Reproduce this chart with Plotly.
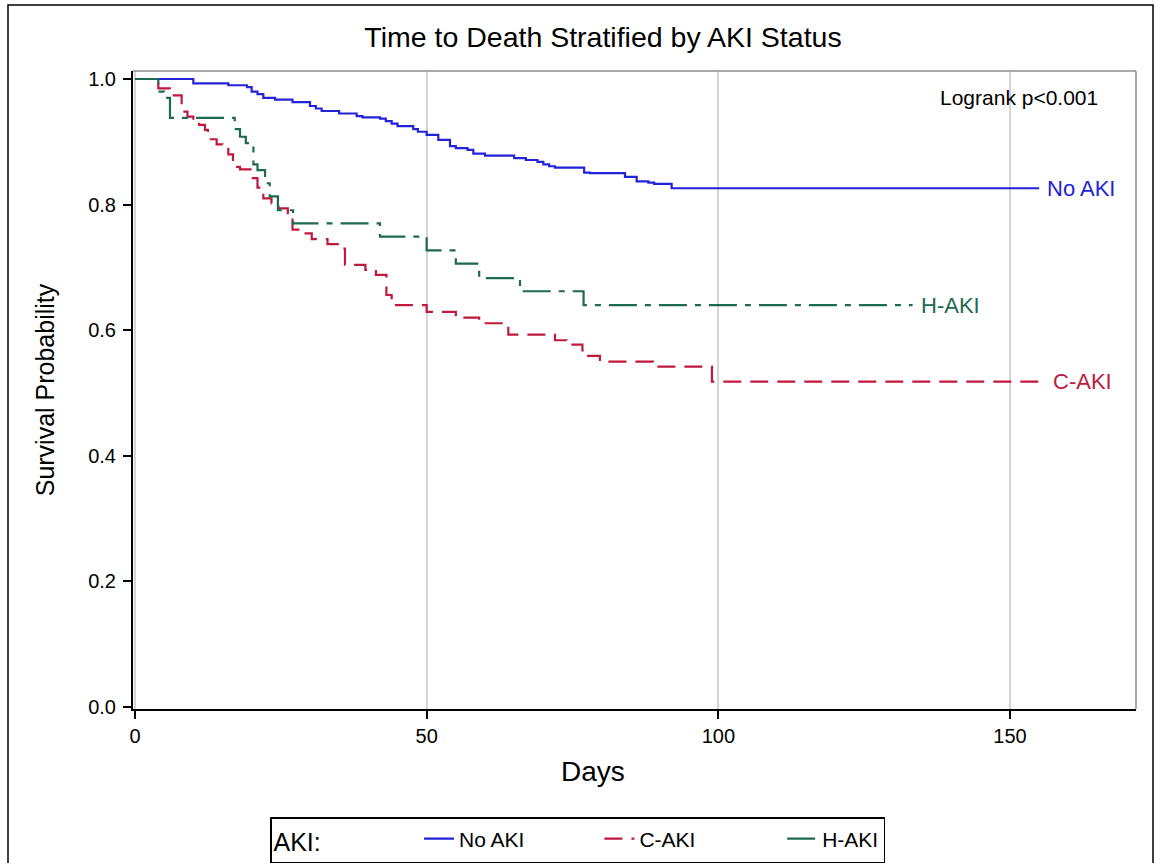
import plotly.graph_objects as go

# ---- data ----
no_aki_t = [0, 10, 16, 19.2, 20, 21, 22, 24, 27, 30, 31, 32, 35, 38, 39, 42, 43, 44, 45, 47.7, 48.5,
            50, 52, 54, 55, 57, 58, 60, 65, 67, 69, 70, 71, 72, 77, 78, 84, 86, 88, 89, 92, 155]
no_aki_s = [1.0, .993, .990, .987, .980, .976, .970, .967, .963, .957, .953, .949, .945, .941, .939,
            .937, .933, .929, .925, .920, .916, .911, .903, .893, .890, .887, .881, .878, .874, .871,
            .868, .864, .861, .859, .851, .850, .844, .837, .835, .833, .826, .826]

c_aki_t = [0, 4, 6, 8, 9, 10, 11, 12, 12.5, 13, 14, 15, 16, 16.8, 18, 20, 21, 22, 23.4, 24.6, 26.2, 27,
           28, 30.3, 33, 35, 36, 39.5, 41.3, 43.1, 44, 50, 55, 59, 64, 72, 74, 76.7, 77.7, 79.7,
           88.8, 98.9, 156]
c_aki_s = [1.0, .985, .974, .948, .940, .935, .927, .919, .908, .904, .896, .893, .880, .860, .856,
           .842, .827, .810, .802, .794, .781, .760, .754, .745, .737, .730, .704, .696, .688, .656,
           .640, .629, .620, .611, .593, .584, .577, .568, .559, .550, .542, .518, .518]

h_aki_t = [0, 4, 5, 6, 17.1, 18, 19, 20.3, 21, 22.3, 23.1, 24.5, 27.1, 42, 50, 55, 59, 66, 76.9, 133.3]
h_aki_s = [1.0, .98, .97, .938, .92, .908, .898, .864, .855, .834, .813, .791, .770, .749, .727,
           .706, .683, .662, .640, .640]

series = [
    ("No AKI", no_aki_t, no_aki_s, "#2323D9", "solid", 12),
    ("C-AKI", c_aki_t, c_aki_s, "#C0183E", "18px,9px", 14),
    ("H-AKI", h_aki_t, h_aki_s, "#1D6A50", "28px,8px,6px,8px", 0),
]

x_ticks = [0, 50, 100, 150]
y_ticks = [0.0, 0.2, 0.4, 0.6, 0.8, 1.0]

FONT = "Liberation Sans, Arial, sans-serif"

L, R, T, B = 133, 19, 71, 154
W, H = 1155, 863
pw, ph = W - L - R, H - T - B

def px(xp):
    return (xp - L) / pw

def py(yp):
    return (H - B - yp) / ph

fig = go.Figure()
for name, t, s, color, dash, pad in series:
    fig.add_trace(go.Scatter(
        x=t, y=s, mode="lines", name=name + "&nbsp;" * pad, line_shape="hv",
        line=dict(color=color, width=2.2, dash=dash),
    ))
    fig.add_annotation(x=t[-1], y=s[-1], text=name, showarrow=False, xanchor="left",
                       xshift=6, font=dict(size=22, color=color, family=FONT))

fig.add_annotation(xref="paper", yref="paper", x=px(1100), y=py(97), xanchor="right", yanchor="middle",
                   text="Logrank p<0.001", showarrow=False, font=dict(size=21, color="black", family=FONT))
fig.add_annotation(xref="paper", yref="paper", x=px(593), y=py(771), xanchor="center", yanchor="middle",
                   text="Days", showarrow=False, font=dict(size=28, color="black", family=FONT))

shapes = [
    # outer border
    dict(type="rect", xref="paper", yref="paper", x0=px(8), x1=px(1153), y0=py(875), y1=py(5),
         line=dict(color="black", width=1.5), layer="below"),
    # top and right frame lines (gray)
    dict(type="line", xref="paper", yref="paper", x0=0, x1=1, y0=1, y1=1,
         line=dict(color="#8c8c8c", width=1.5)),
    dict(type="line", xref="paper", yref="paper", x0=1, x1=1, y0=0, y1=1,
         line=dict(color="#8c8c8c", width=1.5)),
]

fig.update_layout(
    width=W, height=H,
    margin=dict(l=L, r=R, t=T, b=B, autoexpand=False),
    paper_bgcolor="white", plot_bgcolor="white",
    font=dict(family=FONT, color="black"),
    title=dict(text="Time to Death Stratified by AKI Status", x=603 / W, xanchor="center",
               y=1 - 37 / H, yanchor="middle", font=dict(size=28.5, family=FONT, color="black")),
    xaxis=dict(range=[-0.34, 171.6], tickvals=x_ticks, ticktext=[str(v) for v in x_ticks],
               showgrid=True, gridcolor="#d6d6d6", gridwidth=1.5, zeroline=False,
               showline=True, linecolor="black", linewidth=2, ticks="outside", ticklen=8,
               tickwidth=2, tickcolor="black", tickfont=dict(size=20)),
    yaxis=dict(range=[-0.0032, 1.0127], tickvals=y_ticks, ticktext=[f"{v:.1f}" for v in y_ticks],
               showgrid=False, zeroline=False,
               showline=True, linecolor="black", linewidth=2, ticks="outside", ticklen=8,
               tickwidth=2, tickcolor="black", tickfont=dict(size=20), ticklabelstandoff=3,
               title=dict(text="Survival Probability", font=dict(size=25), standoff=26)),
    legend=dict(orientation="h", x=px(270), xanchor="left", y=py(817), yanchor="top",
                bordercolor="black", borderwidth=1.5, bgcolor="white",
                title=dict(text="AKI:" + "&nbsp;" * 13, side="left", font=dict(size=25)),
                font=dict(size=21), traceorder="normal"),
    shapes=shapes,
    showlegend=True,
)

fig.write_html("out.html", config={"displayModeBar": False},
               post_script="document.body.style.margin='0';")
